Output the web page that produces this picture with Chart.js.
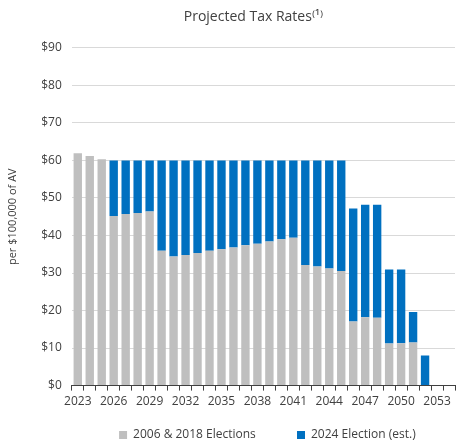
<!DOCTYPE html>
<html>
<head>
<meta charset="utf-8">
<script src="https://cdn.jsdelivr.net/npm/chart.js@4"></script>
<style>
  html, body { margin: 0; padding: 0; background: #fff; overflow: hidden; }
  #wrap { width: 456px; height: 446px; }
</style>
</head>
<body>
<div id="wrap"><canvas id="taxChart" width="456" height="446"></canvas></div>
<script>
const YEARS = [];
for (let y = 2023; y <= 2054; y++) YEARS.push(String(y));

const PRIOR_ELECTIONS = [61.9, 61.2, 60.3, 45.2, 45.7, 46.0, 46.4, 35.9, 34.4, 34.8, 35.3, 35.9, 36.3, 36.8, 37.4, 37.8,
                         38.4, 39.0, 39.4, 32.1, 31.7, 31.2, 30.5, 17.1, 18.2, 18.1, 11.2, 11.3, 11.5, 0, 0, 0];
const ELECTION_2024 = [0, 0, 0, 14.8, 14.3, 14.0, 13.6, 24.1, 25.6, 25.2, 24.7, 24.1, 23.7, 23.2, 22.6, 22.2,
                       21.6, 21.0, 20.6, 27.9, 28.3, 28.8, 29.5, 30.1, 30.0, 30.1, 19.7, 19.6, 8.1, 8.0, 0, 0];
const Y_TICKS = [0, 10, 20, 30, 40, 50, 60, 70, 80, 90];

const FONT = "'Open Sans', 'Liberation Sans', sans-serif";

// centre legend and title over the plot area rather than the whole canvas
const shiftBoxes = {
    id: 'shiftBoxes',
    afterLayout(chart) {
        const area = chart.chartArea;
        if (chart.legend) {
            chart.legend.left = area.left + 4;
            chart.legend.right = area.right + 4;
        }
        if (chart.titleBlock) {
            chart.titleBlock.left = area.left - 20;
            chart.titleBlock.right = area.right;
        }
    }
};

const ctx = document.getElementById('taxChart').getContext('2d');
new Chart(ctx, {
    type: 'bar',
    data: {
        labels: YEARS,
        datasets: [
            {
                label: '2006 & 2018 Elections',
                data: PRIOR_ELECTIONS,
                backgroundColor: '#bfbfbf',
                barPercentage: 0.7,
                categoryPercentage: 1.0
            },
            {
                label: '2024 Election (est.)',
                data: ELECTION_2024,
                backgroundColor: '#0070c0',
                barPercentage: 0.7,
                categoryPercentage: 1.0
            }
        ]
    },
    options: {
        responsive: false,
        animation: false,
        layout: { padding: { top: 9, right: 1, left: 6, bottom: -5 } },
        plugins: {
            title: {
                display: true,
                text: 'Projected Tax Rates⁽¹⁾',
                color: '#404040',
                font: { family: FONT, size: 14, weight: 'normal' },
                padding: { top: 0, bottom: 22 }
            },
            legend: {
                position: 'bottom',
                labels: {
                    color: '#404040',
                    font: { family: FONT, size: 12 },
                    boxWidth: 8,
                    boxHeight: 8,
                    padding: 10,
                    generateLabels: function(chart) {
                        const items = Chart.defaults.plugins.legend.labels.generateLabels(chart);
                        // wider gap after the first entry
                        if (items.length) items[0].text += '          ';
                        return items;
                    }
                }
            },
            tooltip: { enabled: false }
        },
        scales: {
            x: {
                stacked: true,
                grid: {
                    display: true,
                    offset: true,
                    drawOnChartArea: false,
                    tickLength: 5,
                    color: '#404040'
                },
                border: { display: true, color: '#404040' },
                ticks: {
                    autoSkip: false,
                    maxRotation: 0,
                    color: '#404040',
                    font: { family: FONT, size: 12 },
                    padding: 4,
                    callback: function(value, index) {
                        return index % 3 === 0 ? YEARS[index] : '';
                    }
                },
                title: {
                    display: true,
                    text: '',
                    font: { size: 5 },
                    padding: 0
                }
            },
            y: {
                stacked: true,
                min: 0,
                max: 90,
                afterBuildTicks: function(axis) {
                    axis.ticks = Y_TICKS.map(v => ({ value: v }));
                },
                grid: { color: '#d9d9d9', drawTicks: false },
                border: { display: false },
                ticks: {
                    color: '#404040',
                    font: { family: FONT, size: 12 },
                    padding: 10,
                    callback: v => '$' + v
                },
                title: {
                    display: true,
                    text: 'per $100,000 of AV',
                    color: '#404040',
                    font: { family: FONT, size: 11 },
                    padding: { top: 0, bottom: 12 }
                }
            }
        }
    },
    plugins: [shiftBoxes]
});
</script>
</body>
</html>
